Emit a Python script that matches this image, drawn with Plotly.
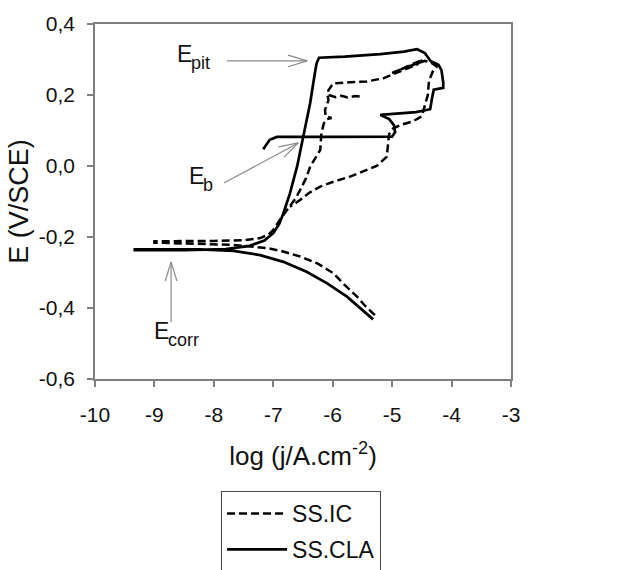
import math
import plotly.graph_objects as go

# ---------------- data ----------------
x_ticks = [-10, -9, -8, -7, -6, -5, -4, -3]
x_ticklabels = ["-10", "-9", "-8", "-7", "-6", "-5", "-4", "-3"]
y_ticks = [-0.6, -0.4, -0.2, 0.0, 0.2, 0.4]
y_ticklabels = ["-0,6", "-0,4", "-0,2", "0,0", "0,2", "0,4"]

# SS.IC (dashed): cathodic branch, anodic branch, reverse scan
ic_x = [-5.29, -5.45, -5.59, -5.80, -5.99, -6.25, -6.55, -6.85, -7.11, -7.40, -7.70, -8.30, -9.00,
        -9.00, -8.50, -8.00, -7.50, -7.22, -7.08, -7.00, -6.89, -6.72, -6.62, -6.55, -6.45, -6.38,
        -6.28, -6.21, -6.19, -6.15, -6.10, -6.02, -6.12, -6.13, -6.07, -6.09, -6.07, -5.99, -5.70,
        -5.43, -5.15, -4.87, -4.59, -4.48, -4.70, -5.00, -4.75, -4.45, -4.35, -4.25, -4.32, -4.38,
        -4.40, -4.45, -4.50, -4.65, -4.85, -4.98, -5.05, -5.07, -5.09, -5.26, -5.50, -5.71, -6.00,
        -6.21, -6.40, -6.55, -6.72]
ic_y = [-0.420, -0.395, -0.368, -0.335, -0.302, -0.275, -0.255, -0.240, -0.231, -0.226, -0.222, -0.219, -0.216,
        -0.212, -0.212, -0.211, -0.209, -0.203, -0.193, -0.180, -0.152, -0.115, -0.090, -0.068, -0.035, -0.002,
        0.025, 0.045, 0.092, 0.120, 0.132, 0.135, 0.140, 0.158, 0.186, 0.200, 0.214, 0.233, 0.236,
        0.238, 0.247, 0.266, 0.285, 0.300, 0.283, 0.262, 0.279, 0.296, 0.292, 0.280, 0.265, 0.240,
        0.200, 0.170, 0.140, 0.126, 0.116, 0.106, 0.090, 0.060, 0.026, 0.000, -0.015, -0.030, -0.045,
        -0.058, -0.076, -0.096, -0.115]
# short inner wiggle of SS.IC near 0.2 V
ic2_x = [-6.07, -5.95, -5.85, -5.75, -5.62, -5.50]
ic2_y = [0.200, 0.194, 0.198, 0.193, 0.197, 0.195]

# SS.CLA (solid): cathodic branch, anodic branch, reverse scan
cla_x = [-5.32, -5.50, -5.76, -6.10, -6.44, -6.83, -7.22, -7.67, -8.23, -9.33,
         -9.33, -8.50, -7.80, -7.40, -7.15, -7.00, -6.90, -6.83, -6.72, -6.60, -6.50, -6.38,
         -6.30, -6.27, -6.23, -5.80, -5.20, -4.80, -4.58, -4.45, -4.35, -4.22, -4.17, -4.14,
         -4.14, -4.30, -4.33, -4.36, -4.60, -5.20, -5.05, -4.97, -4.95, -5.00, -6.00, -6.94,
         -7.06, -7.17]
cla_y = [-0.432, -0.405, -0.368, -0.330, -0.298, -0.270, -0.251, -0.239, -0.235, -0.235,
         -0.237, -0.237, -0.234, -0.225, -0.210, -0.189, -0.163, -0.133, -0.077, -0.002, 0.082, 0.177,
         0.262, 0.290, 0.305, 0.308, 0.315, 0.322, 0.329, 0.318, 0.295, 0.285, 0.270, 0.235,
         0.220, 0.215, 0.190, 0.160, 0.152, 0.144, 0.132, 0.115, 0.095, 0.083, 0.082, 0.082,
         0.074, 0.047]

# annotation arrows: (main letter, subscript, start x, start y, tip x, tip y)
arrows = [
    ("E", "pit", -7.78, 0.296, -6.43, 0.296),
    ("E", "b", -7.83, -0.048, -6.58, 0.065),
    ("E", "corr", -8.72, -0.440, -8.72, -0.270),
]
labels_pos = [(-8.66, 0.316), (-8.46, -0.028), (-9.04, -0.466)]

# ---------------- layout geometry ----------------
W, H = 620, 570
L, R, T, B = 95, 109, 24, 191
XR = [-10, -3]
YR = [-0.6, 0.4]
sx = (W - L - R) / (XR[1] - XR[0])
sy = (H - T - B) / (YR[1] - YR[0])
FONT = "Liberation Sans, Arial"
TXT = "#111"

fig = go.Figure()
fig.add_trace(go.Scatter(x=ic_x, y=ic_y, mode="lines", name="SS.IC", legendgroup="a",
                         line=dict(color="black", width=2.5, dash="8px,4px")))
fig.add_trace(go.Scatter(x=ic2_x, y=ic2_y, mode="lines", name="SS.IC", legendgroup="a",
                         showlegend=False,
                         line=dict(color="black", width=2.5, dash="8px,4px")))
fig.add_trace(go.Scatter(x=cla_x, y=cla_y, mode="lines", name="SS.CLA", legendgroup="b",
                         line=dict(color="black", width=2.7)))

shapes = []
acol = "#8a8a8a"
for (_, _, x0, y0, x1, y1) in arrows:
    shapes.append(dict(type="line", xref="x", yref="y", x0=x0, y0=y0, x1=x1, y1=y1,
                       line=dict(color=acol, width=1.2)))
    dx = (x1 - x0) * sx
    dy = (y1 - y0) * sy
    n = math.hypot(dx, dy)
    ux, uy = dx / n, dy / n
    for s in (1, -1):
        a = math.radians(17) * s
        rx = ux * math.cos(a) - uy * math.sin(a)
        ry = ux * math.sin(a) + uy * math.cos(a)
        ax = x1 - 20 * rx / sx
        ay = y1 - 20 * ry / sy
        shapes.append(dict(type="line", xref="x", yref="y", x0=x1, y0=y1, x1=ax, y1=ay,
                           line=dict(color=acol, width=1.2)))

annotations = []
for (main, sub, _, _, _, _), (lx, ly) in zip(arrows, labels_pos):
    annotations.append(dict(x=lx, y=ly, xref="x", yref="y", text=main, showarrow=False,
                            xanchor="left", yanchor="middle",
                            font=dict(family=FONT, size=23, color=TXT)))
    annotations.append(dict(x=lx, y=ly, xref="x", yref="y", text=sub, showarrow=False,
                            xanchor="left", yanchor="middle", xshift=14, yshift=-9,
                            font=dict(family=FONT, size=18, color=TXT)))

axis_common = dict(showline=True, linecolor="#7f7f7f", linewidth=1.5, mirror=True,
                   ticks="outside", ticklen=6, tickcolor="#7f7f7f", tickwidth=1.5,
                   showgrid=False, zeroline=False,
                   tickfont=dict(family=FONT, size=21, color=TXT))

fig.update_layout(
    width=W, height=H,
    margin=dict(l=L, r=R, t=T, b=B, autoexpand=False),
    paper_bgcolor="white", plot_bgcolor="white",
    xaxis=dict(range=XR, tickvals=x_ticks, ticktext=x_ticklabels, ticklabelstandoff=10,
               title=dict(text="log (j/A.cm<sup>-2</sup>)", standoff=22,
                          font=dict(family=FONT, size=26, color=TXT)),
               **axis_common),
    yaxis=dict(range=YR, tickvals=y_ticks, ticktext=y_ticklabels, ticklabelstandoff=8,
               title=dict(text="E (V/SCE)", standoff=2,
                          font=dict(family=FONT, size=27, color=TXT)),
               **axis_common),
    showlegend=True,
    legend=dict(x=0.303, y=-0.3155, xanchor="left", yanchor="top",
                bordercolor="#444", borderwidth=1, bgcolor="white",
                itemwidth=60, tracegroupgap=3,
                font=dict(family=FONT, size=23, color=TXT)),
    shapes=shapes,
    annotations=annotations,
)

fig.write_html("out.html")
